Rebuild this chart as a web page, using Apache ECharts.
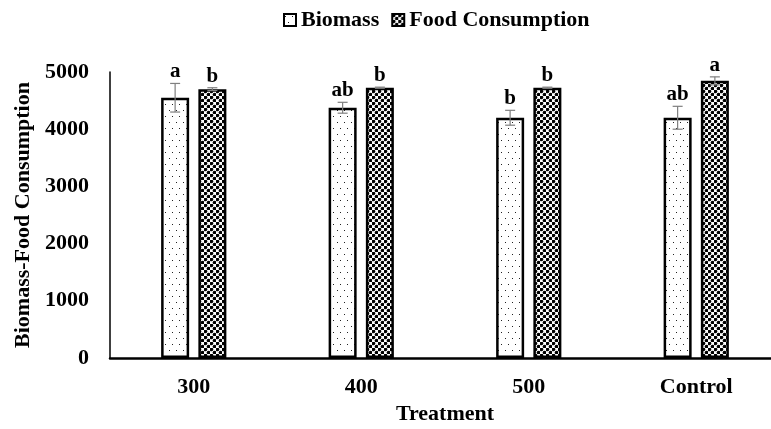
<!DOCTYPE html>
<html>
<head>
<meta charset="utf-8">
<script src="https://cdn.jsdelivr.net/npm/echarts@6/dist/echarts.min.js"></script>
<style>
html, body { margin: 0; padding: 0; background: #fff; }
#main { width: 771px; height: 429px; }
</style>
</head>
<body>
<div id="main"></div>
<script>
var categories = ['300', '400', '500', 'Control'];
var biomass = [4550, 4375, 4200, 4200];
var biomassErr = [250, 95, 130, 200];
var food = [4700, 4725, 4725, 4845];
var foodErr = [25, 10, 10, 70];
var biomassLetters = ['a', 'ab', 'b', 'ab'];
var foodLetters = ['b', 'b', 'b', 'a'];

var FONT = '"Liberation Serif", "Times New Roman", serif';

// fill patterns
function makePattern(w, h, draw) {
    var c = document.createElement('canvas');
    c.width = w; c.height = h;
    var ctx = c.getContext('2d');
    ctx.fillStyle = '#fff';
    ctx.fillRect(0, 0, w, h);
    draw(ctx);
    return c;
}
var sparseDots = makePattern(7, 12, function (ctx) {
    ctx.fillStyle = '#222';
    ctx.fillRect(1, 2, 1, 1);
    ctx.fillRect(4, 8, 1, 1);
});
var denseDots = makePattern(6, 6, function (ctx) {
    ctx.fillStyle = '#000';
    ctx.beginPath(); ctx.arc(1.5, 1.5, 1.8, 0, Math.PI * 2); ctx.fill();
    ctx.beginPath(); ctx.arc(4.5, 4.5, 1.8, 0, Math.PI * 2); ctx.fill();
});

var barW = 28;
var gapPct = 0.33;
var offset = (barW + barW * gapPct) / 2;

function errRender(off, errs, letters) {
    return function (params, api) {
        var i = api.value(0);
        var v = api.value(1);
        var e = errs[i];
        var top = api.coord([i, v + e]);
        var bot = api.coord([i, v - e]);
        var x = top[0] + off;
        var cap = 5;
        return {
            type: 'group',
            children: [
                { type: 'line', shape: { x1: x, y1: top[1], x2: x, y2: bot[1] }, style: { stroke: '#7f7f7f', lineWidth: 1.2 } },
                { type: 'line', shape: { x1: x - cap, y1: top[1], x2: x + cap, y2: top[1] }, style: { stroke: '#7f7f7f', lineWidth: 1.2 } },
                { type: 'line', shape: { x1: x - cap, y1: bot[1], x2: x + cap, y2: bot[1] }, style: { stroke: '#7f7f7f', lineWidth: 1.2 } },
                { type: 'text', style: { text: letters[i], x: x, y: top[1] - 1, align: 'center', verticalAlign: 'bottom', font: 'bold 21px ' + FONT, fill: '#000' } }
            ]
        };
    };
}

var chart = echarts.init(document.getElementById('main'));
chart.setOption({
    animation: false,
    legend: {
        top: 4,
        left: 278,
        icon: 'rect',
        itemWidth: 12,
        itemHeight: 12,
        itemGap: 12,
        data: ['Biomass', 'Food Consumption'],
        textStyle: { fontFamily: FONT, fontWeight: 'bold', fontSize: 22, color: '#000' }
    },
    grid: { left: 110, width: 670, top: 72, bottom: 71, outerBoundsMode: 'none' },
    xAxis: {
        type: 'category',
        data: categories,
        axisTick: { show: false },
        axisLine: { lineStyle: { color: '#000', width: 2.5 } },
        axisLabel: { margin: 18, color: '#000', fontFamily: FONT, fontWeight: 'bold', fontSize: 22 },
        name: 'Treatment',
        nameLocation: 'middle',
        nameGap: 42,
        nameTextStyle: { color: '#000', fontFamily: FONT, fontWeight: 'bold', fontSize: 22 }
    },
    yAxis: {
        type: 'value',
        min: 0,
        max: 5000,
        interval: 1000,
        splitLine: { show: false },
        axisLine: { show: true, lineStyle: { color: '#000', width: 1.5 } },
        axisTick: { show: false },
        axisLabel: {
            margin: 21, color: '#000', fontFamily: FONT, fontWeight: 'bold', fontSize: 22,
            formatter: function (v) { return String(v); }
        },
        name: 'Biomass-Food Consumption',
        nameLocation: 'middle',
        nameGap: 76,
        nameTextStyle: { color: '#000', fontFamily: FONT, fontWeight: 'bold', fontSize: 22 }
    },
    series: [
        {
            name: 'Biomass',
            type: 'bar',
            data: biomass,
            barWidth: barW,
            barGap: (gapPct * 100) + '%',
            itemStyle: { color: { image: sparseDots, repeat: 'repeat' }, borderColor: '#000', borderWidth: 2.5 }
        },
        {
            name: 'Food Consumption',
            type: 'bar',
            data: food,
            barWidth: barW,
            itemStyle: { color: { image: denseDots, repeat: 'repeat' }, borderColor: '#000', borderWidth: 2.5 }
        },
        {
            type: 'custom',
            renderItem: errRender(-offset, biomassErr, biomassLetters),
            data: biomass.map(function (v, i) { return [i, v]; }),
            z: 10,
            silent: true
        },
        {
            type: 'custom',
            renderItem: errRender(offset, foodErr, foodLetters),
            data: food.map(function (v, i) { return [i, v]; }),
            z: 10,
            silent: true
        }
    ]
});
</script>
</body>
</html>
